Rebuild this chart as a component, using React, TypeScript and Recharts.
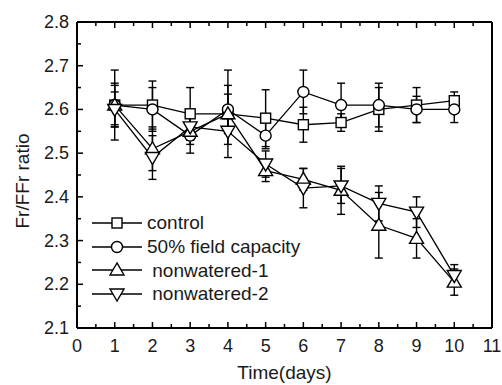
import { LineChart, Line, XAxis, YAxis, ErrorBar, Legend } from 'recharts';

// values
const days = [1, 2, 3, 4, 5, 6, 7, 8, 9, 10];
const control = [2.61, 2.61, 2.59, 2.59, 2.58, 2.565, 2.57, 2.6, 2.61, 2.62];
const controlErr = [0.045, 0.055, 0.06, 0.045, 0.065, 0.04, 0.02, 0.05, 0.04, 0.02];
const field50 = [2.61, 2.6, 2.54, 2.6, 2.54, 2.64, 2.61, 2.61, 2.6, 2.6];
const field50Err = [0.05, 0.05, 0.04, 0.055, 0.03, 0.05, 0.05, 0.05, 0.03, 0.03];
const nonwatered1 = [2.61, 2.51, 2.55, 2.59, 2.46, 2.44, 2.415, 2.335, 2.305, 2.205];
const nonwatered1Err = [0.08, 0.05, 0.03, 0.1, 0.025, 0.025, 0.055, 0.075, 0.045, 0.03];
const nonwatered2 = [2.6, 2.49, 2.56, 2.55, 2.475, 2.42, 2.425, 2.385, 2.365, 2.22];
const nonwatered2Err = [0.04, 0.05, 0.03, 0.03, 0.03, 0.045, 0.04, 0.04, 0.035, 0.025];

const xTicks = [0, 0.5, 1, 1.5, 2, 2.5, 3, 3.5, 4, 4.5, 5, 5.5, 6, 6.5, 7, 7.5, 8, 8.5, 9, 9.5, 10, 10.5, 11];
const yTicks = [2.1, 2.15, 2.2, 2.25, 2.3, 2.35, 2.4, 2.45, 2.5, 2.55, 2.6, 2.65, 2.7, 2.75, 2.8];

const seriesNames = ['control', '50% field capacity', ' nonwatered-1', ' nonwatered-2'];

const data = days.map((d, i) => ({
  day: d,
  control: control[i],
  controlErr: controlErr[i],
  field50: field50[i],
  field50Err: field50Err[i],
  nw1: nonwatered1[i],
  nw1Err: nonwatered1Err[i],
  nw2: nonwatered2[i],
  nw2Err: nonwatered2Err[i],
}));

const FONT = '"Liberation Sans", Arial, sans-serif';
const INK = '#1a1a1a';

const isMajorX = (v: number) => Number.isInteger(v);
const isMajorY = (v: number) => Math.abs(v * 10 - Math.round(v * 10)) < 1e-6;

function Marker({ shape, cx, cy }: { shape: string; cx: number; cy: number }) {
  const common = { fill: '#fff', stroke: '#000', strokeWidth: 1.4 };
  if (shape === 'square') return <rect x={cx - 5} y={cy - 5} width={10} height={10} {...common} />;
  if (shape === 'circle') return <circle cx={cx} cy={cy} r={5.5} {...common} />;
  if (shape === 'up')
    return <polygon points={`${cx},${cy - 7} ${cx - 7},${cy + 5} ${cx + 7},${cy + 5}`} {...common} />;
  return <polygon points={`${cx},${cy + 7} ${cx - 7},${cy - 5} ${cx + 7},${cy - 5}`} {...common} />;
}

const shapes = ['square', 'circle', 'up', 'down'];

const makeDot = (shape: string) => (props: any) => (
  <Marker key={`${shape}-${props.index}`} shape={shape} cx={props.cx} cy={props.cy} />
);

function BottomTick({ x, y, payload }: any) {
  const major = isMajorX(payload.value);
  return (
    <g>
      <line x1={x} x2={x} y1={y} y2={y - (major ? 6 : 4)} stroke="#000" strokeWidth={1.5} />
      {major && (
        <text x={x} y={y + 24} textAnchor="middle" fontSize={18} fontFamily={FONT} fill={INK}>
          {payload.value}
        </text>
      )}
    </g>
  );
}

function TopTick({ x, y, payload }: any) {
  const major = isMajorX(payload.value);
  return <line x1={x} x2={x} y1={y} y2={y + (major ? 6 : 4)} stroke="#000" strokeWidth={1.5} />;
}

function LeftTick({ x, y, payload }: any) {
  const major = isMajorY(payload.value);
  return (
    <g>
      <line x1={x} x2={x + (major ? 6 : 4)} y1={y} y2={y} stroke="#000" strokeWidth={1.5} />
      {major && (
        <text x={x - 8} y={y + 6} textAnchor="end" fontSize={18} fontFamily={FONT} fill={INK}>
          {payload.value.toFixed(1)}
        </text>
      )}
    </g>
  );
}

function RightTick({ x, y, payload }: any) {
  const major = isMajorY(payload.value);
  return <line x1={x} x2={x - (major ? 6 : 4)} y1={y} y2={y} stroke="#000" strokeWidth={1.5} />;
}

function LegendBox() {
  return (
    <div style={{ fontFamily: FONT, fontSize: 19, color: INK }}>
      {seriesNames.map((name, i) => (
        <div key={name} style={{ display: 'flex', alignItems: 'center', height: 23.7 }}>
          <svg width={50} height={20} style={{ display: 'block' }}>
            <line x1={0} x2={50} y1={10} y2={10} stroke="#000" strokeWidth={1.3} />
            <Marker shape={shapes[i]} cx={25} cy={10} />
          </svg>
          <span style={{ marginLeft: 5, whiteSpace: 'pre', lineHeight: 1 }}>{name}</span>
        </div>
      ))}
    </div>
  );
}

const keys = ['control', 'field50', 'nw1', 'nw2'];

export default function App() {
  return (
    <div style={{ position: 'absolute', left: 0, top: 0, width: 502, height: 385, background: '#fff' }}>
      <LineChart width={502} height={385} data={data} margin={{ top: 0, right: 0, bottom: 0, left: 0 }}>
        <XAxis
          xAxisId="b"
          dataKey="day"
          type="number"
          domain={[0, 11]}
          ticks={xTicks}
          interval={0}
          height={57}
          tickSize={0}
          tickMargin={0}
          tickLine={false}
          tick={<BottomTick />}
          axisLine={{ stroke: '#000', strokeWidth: 2 }}
          label={() => (
            <text x={284.5} y={379} textAnchor="middle" fontSize={19} fontFamily={FONT} fill={INK}>
              Time(days)
            </text>
          )}
        />
        <XAxis
          xAxisId="t"
          orientation="top"
          dataKey="day"
          type="number"
          domain={[0, 11]}
          ticks={xTicks}
          interval={0}
          height={22}
          tickSize={0}
          tickMargin={0}
          tickLine={false}
          tick={<TopTick />}
          axisLine={{ stroke: '#000', strokeWidth: 2 }}
        />
        <YAxis
          yAxisId="l"
          type="number"
          domain={[2.1, 2.8]}
          ticks={yTicks}
          interval={0}
          width={77}
          tickSize={0}
          tickMargin={0}
          tickLine={false}
          tick={<LeftTick />}
          axisLine={{ stroke: '#000', strokeWidth: 2 }}
          label={() => (
            <text
              x={29}
              y={181}
              transform="rotate(-90 29 181)"
              textAnchor="middle"
              fontSize={19}
              fontFamily={FONT}
              fill={INK}
            >
              Fr/FFr ratio
            </text>
          )}
        />
        <YAxis
          yAxisId="r"
          orientation="right"
          type="number"
          domain={[2.1, 2.8]}
          ticks={yTicks}
          interval={0}
          width={10}
          tickSize={0}
          tickMargin={0}
          tickLine={false}
          tick={<RightTick />}
          axisLine={{ stroke: '#000', strokeWidth: 2 }}
        />
        <Legend
          layout="vertical"
          align="center"
          verticalAlign="middle"
          content={() => <LegendBox />}
          wrapperStyle={{ left: 92, top: 211, width: 260 }}
        />
        {keys.map((k, i) => (
          <Line
            key={k}
            xAxisId="b"
            yAxisId="l"
            type="linear"
            dataKey={k}
            stroke="#000"
            strokeWidth={1.3}
            dot={makeDot(shapes[i])}
            activeDot={false}
            isAnimationActive={false}
          />
        ))}
        {keys.map((k) => (
          <Line
            key={`${k}-err`}
            xAxisId="b"
            yAxisId="l"
            type="linear"
            dataKey={k}
            stroke="none"
            dot={false}
            activeDot={false}
            legendType="none"
            isAnimationActive={false}
          >
            <ErrorBar dataKey={`${k}Err`} width={4} stroke="#000" strokeWidth={1.4} direction="y" />
          </Line>
        ))}
      </LineChart>
    </div>
  );
}
